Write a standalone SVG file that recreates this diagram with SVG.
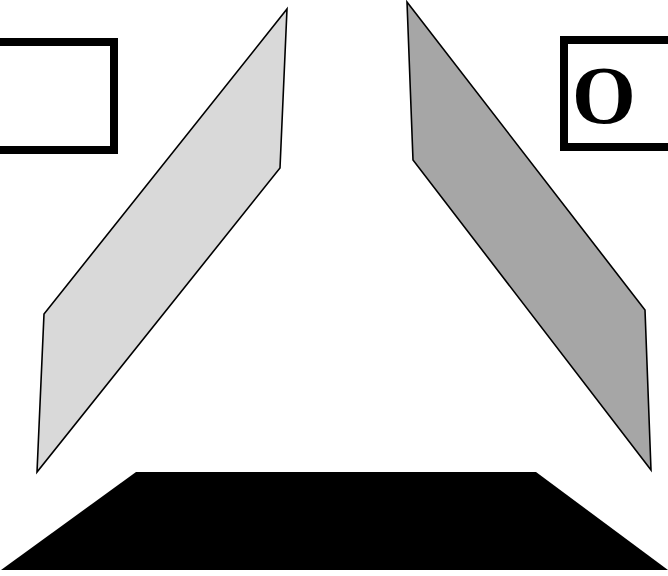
<svg xmlns="http://www.w3.org/2000/svg" width="668" height="576" viewBox="0 0 668 576">
<style>
.box{fill:#fff;stroke:#000;stroke-width:8}
.panel{stroke:#000;stroke-width:1.6;stroke-linejoin:miter}
.lbl{font-family:"Liberation Serif","Times New Roman",serif;font-weight:bold;font-size:82px;fill:#000}
</style>
<rect width="668" height="576" fill="#fff"/>
<g id="box-left"><rect class="box" x="-20" y="42" width="134" height="108"/></g>
<g id="box-right"><rect class="box" x="564" y="40" width="130" height="107"/><text class="lbl" x="572" y="123">O</text></g>
<g id="panel-left"><polygon class="panel" fill="#d9d9d9" points="287,9 280,168 37,472 44,314"/></g>
<g id="panel-right"><polygon class="panel" fill="#a6a6a6" points="407,2 413,160 651,470 645,310"/></g>
<g id="base"><polygon fill="#000" points="136,472 536,472 668,570 1,570"/></g>
</svg>
